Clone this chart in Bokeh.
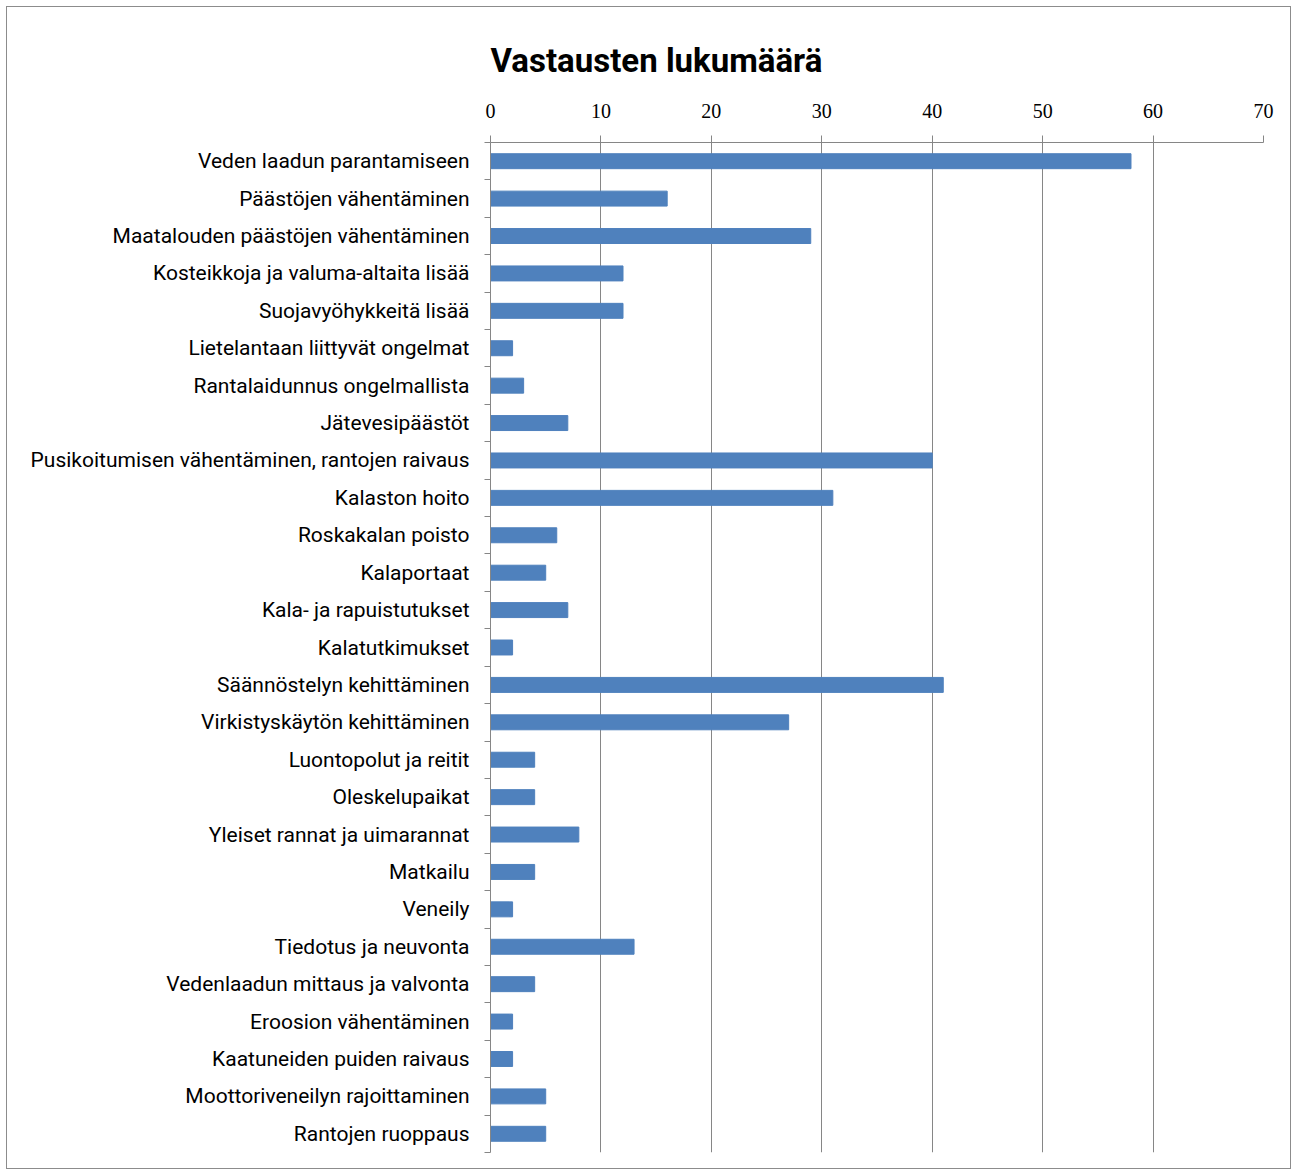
import numpy as np
from bokeh.plotting import figure
from bokeh.models import Range1d, FixedTicker, Title
from bokeh.embed import file_html
from bokeh.resources import INLINE

categories = [
    "Veden laadun parantamiseen",
    "Päästöjen vähentäminen",
    "Maatalouden päästöjen vähentäminen",
    "Kosteikkoja ja valuma-altaita lisää",
    "Suojavyöhykkeitä lisää",
    "Lietelantaan liittyvät ongelmat",
    "Rantalaidunnus ongelmallista",
    "Jätevesipäästöt",
    "Pusikoitumisen vähentäminen, rantojen raivaus",
    "Kalaston hoito",
    "Roskakalan poisto",
    "Kalaportaat",
    "Kala- ja rapuistutukset",
    "Kalatutkimukset",
    "Säännöstelyn kehittäminen",
    "Virkistyskäytön kehittäminen",
    "Luontopolut ja reitit",
    "Oleskelupaikat",
    "Yleiset rannat ja uimarannat",
    "Matkailu",
    "Veneily",
    "Tiedotus ja neuvonta",
    "Vedenlaadun mittaus ja valvonta",
    "Eroosion vähentäminen",
    "Kaatuneiden puiden raivaus",
    "Moottoriveneilyn rajoittaminen",
    "Rantojen ruoppaus",
]
values = [58, 16, 29, 12, 12, 2, 3, 7, 40, 31, 6, 5, 7, 2, 41, 27, 4, 4, 8, 4, 2, 13, 4, 2, 2, 5, 5]
x_ticks = [0, 10, 20, 30, 40, 50, 60, 70]
title_text = "Vastausten lukumäärä"

n = len(categories)
ypos = [2 * i + 1 for i in range(n)]
bounds = [2 * i for i in range(n + 1)]

p = figure(
    width=1285, height=1163,
    x_range=Range1d(0, 70), y_range=Range1d(2 * n, 0),
    x_axis_location="above",
    output_backend="svg", toolbar_location=None,
    min_border_left=483, min_border_right=29, min_border_top=135, min_border_bottom=18,
)
p.styles = {"border": "1px solid #8c8c8c", "margin-left": "6px", "margin-top": "6px"}

t = Title(text=title_text, align="left", offset=0,
          text_font="Roboto", text_font_size="33px",
          text_font_style="bold", text_color="#000000", standoff=42)
p.title = t

p.hbar(y=ypos, right=values, left=0, height=0.8, fill_color="#4F81BD", line_color="#4F81BD")

p.xaxis.ticker = FixedTicker(ticks=x_ticks)
p.xaxis.major_label_text_font = "Liberation Serif"
p.xaxis.major_label_text_font_size = "20px"
p.xaxis.major_label_text_color = "#000000"
p.xaxis.major_label_standoff = 18
p.xaxis.major_tick_out = 7
p.xaxis.major_tick_in = 0
p.xaxis.minor_tick_out = 0
p.xaxis.minor_tick_in = 0
p.xaxis.axis_line_color = "#868686"
p.xaxis.major_tick_line_color = "#868686"

p.yaxis.ticker = FixedTicker(ticks=ypos, minor_ticks=bounds)
p.yaxis.major_label_overrides = {y: c for y, c in zip(ypos, categories)}
p.yaxis.major_label_text_font = "Roboto"
p.yaxis.major_label_text_font_size = "21px"
p.yaxis.major_label_text_color = "#000000"
p.yaxis.major_label_standoff = 15
p.yaxis.major_tick_out = 0
p.yaxis.major_tick_in = 0
p.yaxis.minor_tick_out = 6
p.yaxis.minor_tick_in = 0
p.yaxis.minor_tick_line_color = "#868686"
p.yaxis.axis_line_color = "#868686"

p.xgrid.ticker = FixedTicker(ticks=x_ticks)
p.xgrid.grid_line_color = "#868686"
p.ygrid.grid_line_color = None
p.outline_line_color = None

open("out.html", "w").write(file_html(p, INLINE))
